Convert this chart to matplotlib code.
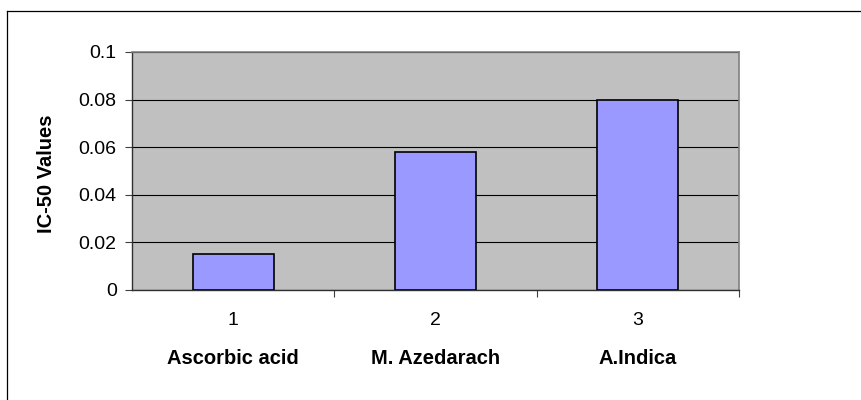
import matplotlib
matplotlib.use("Agg")
import matplotlib.pyplot as plt
from matplotlib.lines import Line2D

# data
positions = [1, 2, 3]
tick_labels = ["1", "2", "3"]
names = ["Ascorbic acid", "M. Azedarach", "A.Indica"]
ic50 = [0.015, 0.058, 0.080]
yticks = [0, 0.02, 0.04, 0.06, 0.08, 0.1]
ytick_labels = ["0", "0.02", "0.04", "0.06", "0.08", "0.1"]

plt.rcParams['font.family'] = ['Liberation Sans', 'DejaVu Sans']

fig = plt.figure(figsize=(8.61, 4.0), dpi=100)
ax = fig.add_axes([132/861, 1-290/400, 607/861, 238/400])
ax.set_facecolor('#C0C0C0')

ax.bar(positions, ic50, width=0.4, color='#9999FF', edgecolor='black',
       linewidth=1.2, zorder=3)

ax.set_xlim(0.5, 3.5)
ax.set_ylim(0, 0.1)
ax.set_yticks(yticks)
ax.set_yticklabels(ytick_labels)
ax.yaxis.grid(True, color='black', linewidth=0.8, zorder=1)
ax.set_axisbelow(True)

# category ticks sit between the bars, labels are centred under them
ax.set_xticks([1.5, 2.5, 3.5])
ax.set_xticklabels([])
ax.tick_params(axis='x', direction='out', length=5, width=0.8, color='#404040')
ax.tick_params(axis='y', direction='out', length=5, width=0.8, color='#404040',
               labelsize=14, pad=6)

trans = ax.get_xaxis_transform()
for p, t, n in zip(positions, tick_labels, names):
    ax.text(p, -0.13, t, transform=trans, ha='center', va='center', fontsize=14)
    ax.text(p, -0.286, n, transform=trans, ha='center', va='center',
            fontsize=14.5, fontweight='bold')

ax.set_ylabel("IC-50 Values", fontsize=14.5, fontweight='bold')
ax.yaxis.set_label_coords(-0.126, 0.49)

for s in ['top', 'right']:
    ax.spines[s].set_color('#808080')
    ax.spines[s].set_linewidth(1.2)
for s in ['left', 'bottom']:
    ax.spines[s].set_color('#303030')
    ax.spines[s].set_linewidth(1.0)

# outer chart border (only left and top edges are visible)
fig.add_artist(Line2D([7/861, 7/861], [0, 1-11/400], transform=fig.transFigure,
                      color='black', linewidth=0.9))
fig.add_artist(Line2D([7/861, 1], [1-11/400, 1-11/400], transform=fig.transFigure,
                      color='black', linewidth=0.9))

fig.savefig('out.png', dpi=100)
